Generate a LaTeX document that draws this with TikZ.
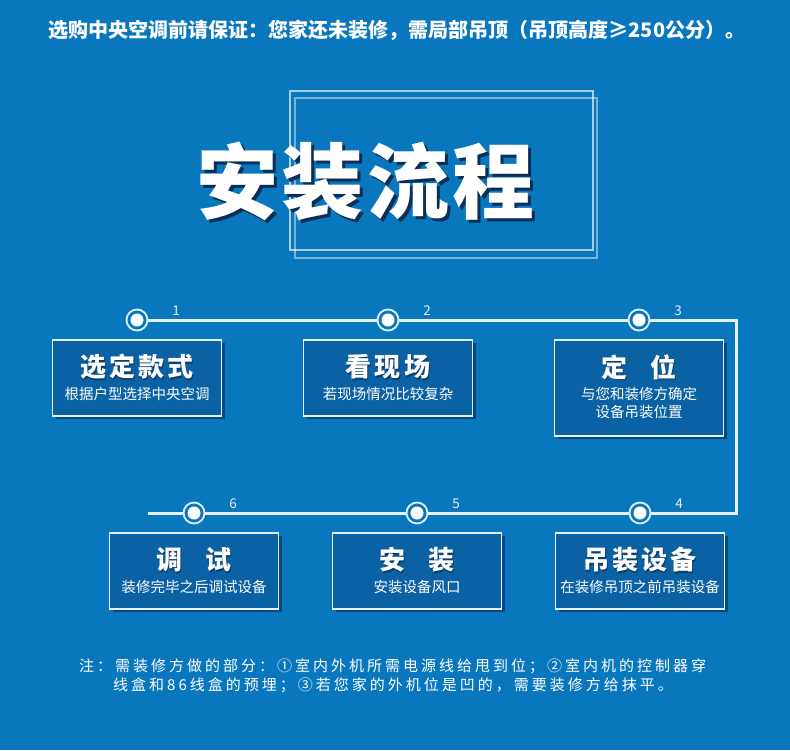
\documentclass[tikz,border=0pt]{standalone}
\usepackage{fontspec}
\usepackage{tikz}
\usetikzlibrary{positioning,shadows}
\newfontfamily\cjk{Noto Sans CJK SC}
\newfontfamily\cjkwide[LetterSpace=12]{Noto Sans CJK SC}
\newfontfamily\cjknote[LetterSpace=20]{Noto Sans CJK SC}
\newfontfamily\cjkhead[LetterSpace=4]{Noto Sans CJK SC}
\definecolor{hdBg}{RGB}{9,119,190}
\definecolor{hdBox}{RGB}{10,98,164}
\definecolor{hdShade}{RGB}{8,72,128}
\definecolor{hdDeep}{RGB}{12,46,86}
\definecolor{hdLine}{RGB}{228,240,250}

\begin{document}
\begin{tikzpicture}[x=1pt, y=-1pt,
  dot/.style={circle, draw=hdLine, line width=1.8pt, fill=hdBg, minimum size=21pt, inner sep=0pt,
    path picture={\fill[white] (path picture bounding box.center) circle (6.5pt);}},
  numlbl/.style={text=hdLine, font=\cjk\fontsize{13.5}{15}\selectfont, inner sep=0pt},
  stepbox/.style={draw=hdLine, line width=1.3pt, fill=hdBox, minimum width=169pt, inner sep=0pt,
    drop shadow={shadow xshift=3pt, shadow yshift=-3pt, fill=hdShade, opacity=1}},
  boxttl/.style={text=white, font=\cjkwide\bfseries\fontsize{26}{30}\selectfont, inner sep=0pt},
  boxsub/.style={text=white, font=\cjk\fontsize{14.5}{18}\selectfont, align=center, inner sep=0pt},
  notetxt/.style={anchor=west, text=white, font=\cjknote\fontsize{15}{18}\selectfont, inner sep=0pt},
  track/.style={hdLine, line width=3pt},
  titleframe/.style={draw=white, opacity=0.65, line width=1.3pt}]
% background
\fill[hdBg] (0,0) rectangle (790,750);
\useasboundingbox (0,0) rectangle (790,750);

% heading line
\node[text=white, font=\cjk\bfseries\fontsize{20}{22}\selectfont] (intro) at (397,30)
  {选购中央空调前请保证：您家还未装修，需局部吊顶（吊顶高度≥250公分）。};

% title with frame
\draw[titleframe] (290,91) rectangle (593,250);
\draw[titleframe, opacity=0.45] (295,98) rectangle (597,258);
\node[text=hdDeep, font=\cjkhead\bfseries\fontsize{82}{90}\selectfont] at (368.5,184) {安装流程};
\node[text=white, font=\cjkhead\bfseries\fontsize{82}{90}\selectfont] (head) at (365.5,181) {安装流程};

% steps: no / x / y / title / text / box height
\foreach \i/\x/\y/\ttl/\sub/\h in {
  1/137/320/{选定款式}/{根据户型选择中央空调}/76,
  2/388/320/{看现场}/{若现场情况比较复杂}/76,
  3/639/320/{定\hspace{0.9em}位}/{与您和装修方确定\\设备吊装位置}/96,
  4/640/513/{吊装设备}/{在装修吊顶之前吊装设备}/76,
  5/417/513/{安\hspace{0.9em}装}/{安装设备风口}/76,
  6/194/513/{调\hspace{0.9em}试}/{装修完毕之后调试设备}/76}
{
  \node[dot] (d\i) at (\x,\y) {};
  \node[numlbl] (n\i) at (\x+39,\y-9) {\i};
  \node[stepbox, minimum height=\h, below=8pt of d\i] (b\i) {};
  \node[boxttl, text=hdDeep, opacity=0.7] at ([xshift=1pt,yshift=-29pt]b\i.north) {\ttl};
  \node[boxttl] (t\i) at ([yshift=-27.5pt]b\i.north) {\ttl};
  \node[boxsub, anchor=north] (s\i) at ([yshift=-48pt]b\i.north) {\sub};
}

% connecting track
\coordinate (turnA) at (736,320);
\coordinate (turnB) at (736,513);
\coordinate (tail) at (148,513);
\draw[track] (d1) -- (d2) -- (d3) -- (turnA) -- (turnB) -- (d4) -- (d5) -- (d6) -- (tail);

% note
\node[notetxt] (note1) at (79,666) {注：需装修方做的部分：①室内外机所需电源线给甩到位；②室内机的控制器穿};
\node[notetxt] (note2) at (113,685) {线盒和86线盒的预埋；③若您家的外机位是凹的，需要装修方给抹平。};
\end{tikzpicture}
\end{document}
